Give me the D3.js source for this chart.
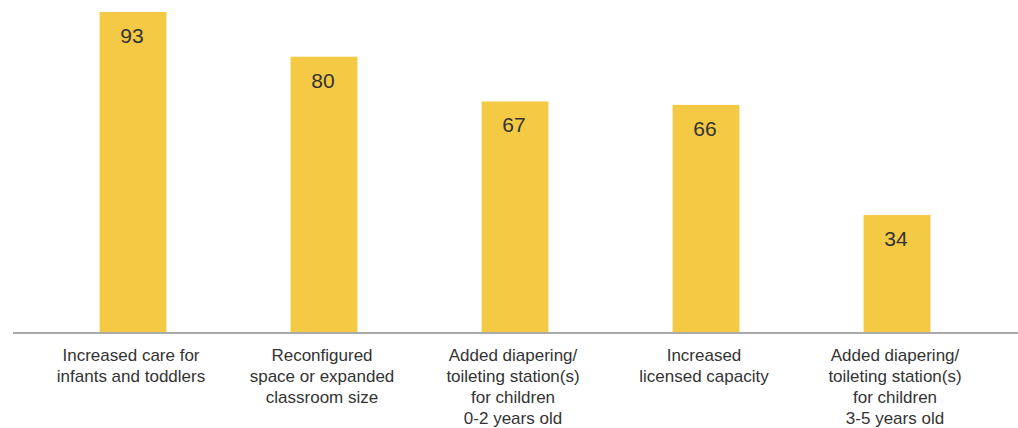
<!DOCTYPE html>
<html>
<head>
<meta charset="utf-8">
<script src="https://cdn.jsdelivr.net/npm/d3@7"></script>
<style>
  body { margin: 0; background: #fff; }
  svg text { font-family: "Liberation Sans", Arial, sans-serif; fill: #333; }
</style>
</head>
<body>
<svg id="chart"></svg>
<script>
// data
let categories = [
  ["Increased care for", "infants and toddlers"],
  ["Reconfigured", "space or expanded", "classroom size"],
  ["Added diapering/", "toileting station(s)", "for children", "0-2 years old"],
  ["Increased", "licensed capacity"],
  ["Added diapering/", "toileting station(s)", "for children", "3-5 years old"]
];
let values = [93, 80, 67, 66, 34];

var svgWidth = 1018, svgHeight = 428;
var baseY = 332;

var svg = d3.select('#chart')
  .attr("width", svgWidth)
  .attr("height", svgHeight);

//x scale, one band per category
var x = d3.scaleBand()
  .domain(d3.range(values.length))
  .range([37.5, 992.5])
  .paddingInner(0.65)
  .paddingOuter(0.325);

//y scale
var y = d3.scaleLinear()
  .domain([0, 93])
  .range([baseY, 12]);

//bars
svg.selectAll("rect.bar")
  .data(values)
  .enter().append("rect")
  .attr("class", "bar")
  .attr("x", function(d, i) {return x(i)})
  .attr("y", function(d) {return y(d)})
  .attr("width", x.bandwidth())
  .attr("height", function(d) {return baseY - y(d)})
  .attr("fill", "#f4ca44");

//value labels inside the bars
svg.selectAll("text.val")
  .data(values)
  .enter().append("text")
  .attr("class", "val")
  .attr("x", function(d, i) {return x(i) + x.bandwidth() / 2 - 1})
  .attr("y", function(d) {return y(d) + 31})
  .attr("text-anchor", "middle")
  .style("font-size", "21px")
  .text(function(d) {return d});

//baseline
svg.append("line")
  .attr("x1", 13)
  .attr("x2", svgWidth)
  .attr("y1", baseY + 1)
  .attr("y2", baseY + 1)
  .attr("stroke", "#aaaaaa")
  .attr("stroke-width", 2);

//category labels, several lines each
var labels = svg.selectAll("text.cat")
  .data(categories)
  .enter().append("text")
  .attr("class", "cat")
  .attr("text-anchor", "middle")
  .style("font-size", "17px")
  .attr("transform", function(d, i) {return "translate(" + (x(i) + x.bandwidth() / 2 - 2) + "," + 361 + ")"});

labels.selectAll("tspan")
  .data(function(d) {return d})
  .enter().append("tspan")
  .attr("x", 0)
  .attr("y", function(d, j) {return j * 21})
  .text(function(d) {return d});
</script>
</body>
</html>
